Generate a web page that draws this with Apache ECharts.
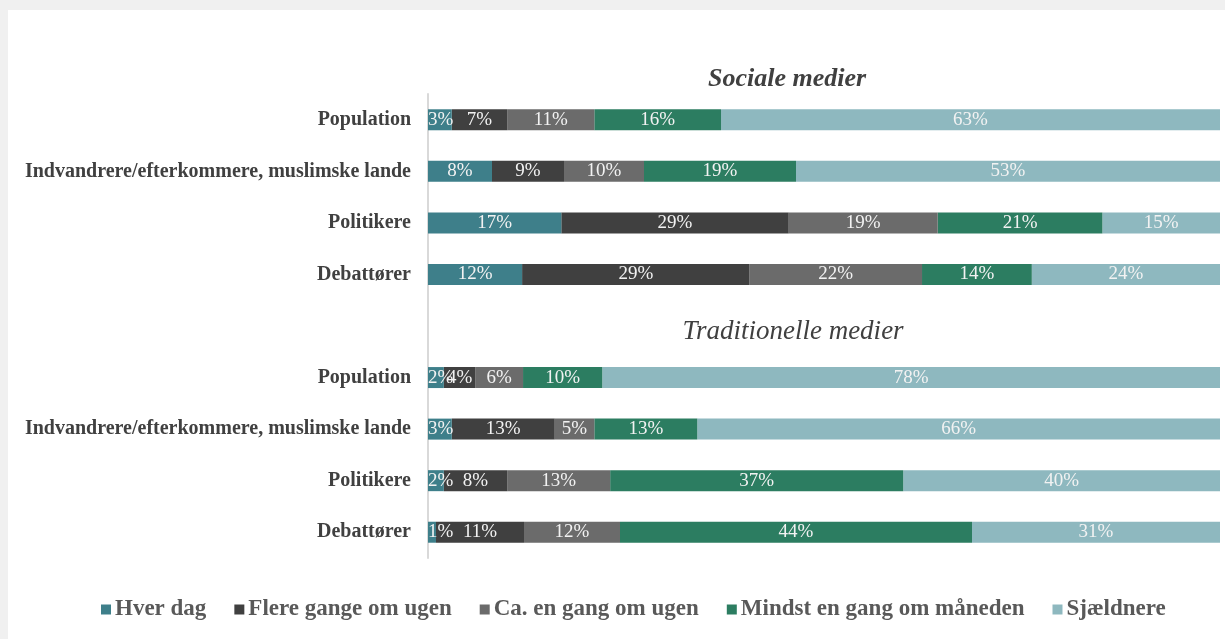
<!DOCTYPE html>
<html>
<head>
<meta charset="utf-8">
<script src="https://cdn.jsdelivr.net/npm/echarts@6/dist/echarts.min.js"></script>
<style>
  html, body { margin: 0; padding: 0; background: #fff; }
  #chart { width: 1225px; height: 639px; }
</style>
</head>
<body>
<div id="chart"></div>
<script>
  // rækker (tom række adskiller de to grupper)
  const categories = [
    'Population', 'Indvandrere/efterkommere, muslimske lande', 'Politikere', 'Debattører',
    '',
    'Population', 'Indvandrere/efterkommere, muslimske lande', 'Politikere', 'Debattører'
  ];
  const seriesNames = ['Hver dag', 'Flere gange om ugen', 'Ca. en gang om ugen', 'Mindst en gang om måneden', 'Sjældnere'];
  const hverDag    = [3, 8, 17, 12, null, 2, 3, 2, 1];
  const flereGange = [7, 9, 29, 29, null, 4, 13, 8, 11];
  const caEnGang   = [11, 10, 19, 22, null, 6, 5, 13, 12];
  const mindst     = [16, 19, 21, 14, null, 10, 13, 37, 44];
  const sjaeldnere = [63, 53, 15, 24, null, 78, 66, 40, 31];

  const colors = ['#3e7f8a', '#404040', '#6b6b6b', '#2c7d61', '#8eb8bf'];
  const FONT = 'Liberation Serif';

  const allValues = [hverDag, flereGange, caEnGang, mindst, sjaeldnere];
  // 100% stablet: hver række skaleres til sin egen sum (som i Excel)
  const rowSums = categories.map((c, i) =>
    allValues.reduce((s, arr) => s + (arr[i] || 0), 0));

  const chart = echarts.init(document.getElementById('chart'));

  const series = allValues.map((arr, k) => ({
    name: seriesNames[k],
    type: 'bar',
    stack: 'total',
    barWidth: 21,
    clip: false,
    z: 10 - k,
    itemStyle: { color: colors[k] },
    label: {
      show: true,
      position: 'inside',
      color: '#f2f2f2',
      fontFamily: FONT,
      fontSize: 19,
      formatter: p => arr[p.dataIndex] + '%'
    },
    data: arr.map((v, i) => {
      if (v == null) return '-';
      const item = { value: v / rowSums[i] * 100 };
      // smalle første segmenter: label skubbes ind fra aksen som i Excel
      if (k === 0 && v < 4) item.label = { position: 'insideLeft', distance: 0 };
      return item;
    })
  }));

  const option = {
    backgroundColor: '#fff',
    animation: false,
    textStyle: { fontFamily: FONT },
    grid: { left: 428, right: 5, top: 94, bottom: 81, containLabel: false },
    xAxis: { type: 'value', min: 0, max: 100, show: false },
    yAxis: {
      type: 'category',
      inverse: true,
      data: categories,
      axisLine: { show: true, lineStyle: { color: '#d9d9d9', width: 2 } },
      axisTick: { show: false },
      axisLabel: {
        margin: 17,
        color: '#404040',
        fontFamily: FONT,
        fontWeight: 'bold',
        fontSize: 20
      }
    },
    legend: {
      data: seriesNames,
      left: 96,
      top: 593,
      icon: 'rect',
      itemWidth: 10,
      itemHeight: 10,
      itemGap: 28,
      textStyle: {
        color: '#595959',
        fontFamily: FONT,
        fontWeight: 'bold',
        fontSize: 23,
        padding: [0, 0, 0, -1]
      }
    },
    graphic: [
      { type: 'rect', shape: { x: 0, y: 0, width: 1225, height: 10 }, style: { fill: '#f0f0f0' }, silent: true },
      { type: 'rect', shape: { x: 0, y: 0, width: 8, height: 639 }, style: { fill: '#f0f0f0' }, silent: true },
      {
        type: 'text', x: 787, y: 79,
        style: {
          text: 'Sociale medier', fill: '#404040', font: 'italic bold 26px "Liberation Serif"',
          textAlign: 'center', textVerticalAlign: 'middle'
        }
      },
      {
        type: 'text', x: 793, y: 332,
        style: {
          text: 'Traditionelle medier', fill: '#404040', font: 'italic 27px "Liberation Serif"',
          textAlign: 'center', textVerticalAlign: 'middle'
        }
      }
    ],
    series: series
  };

  chart.setOption(option);

  window.addEventListener('resize', function () {
    chart.resize();
  });
</script>
</body>
</html>
